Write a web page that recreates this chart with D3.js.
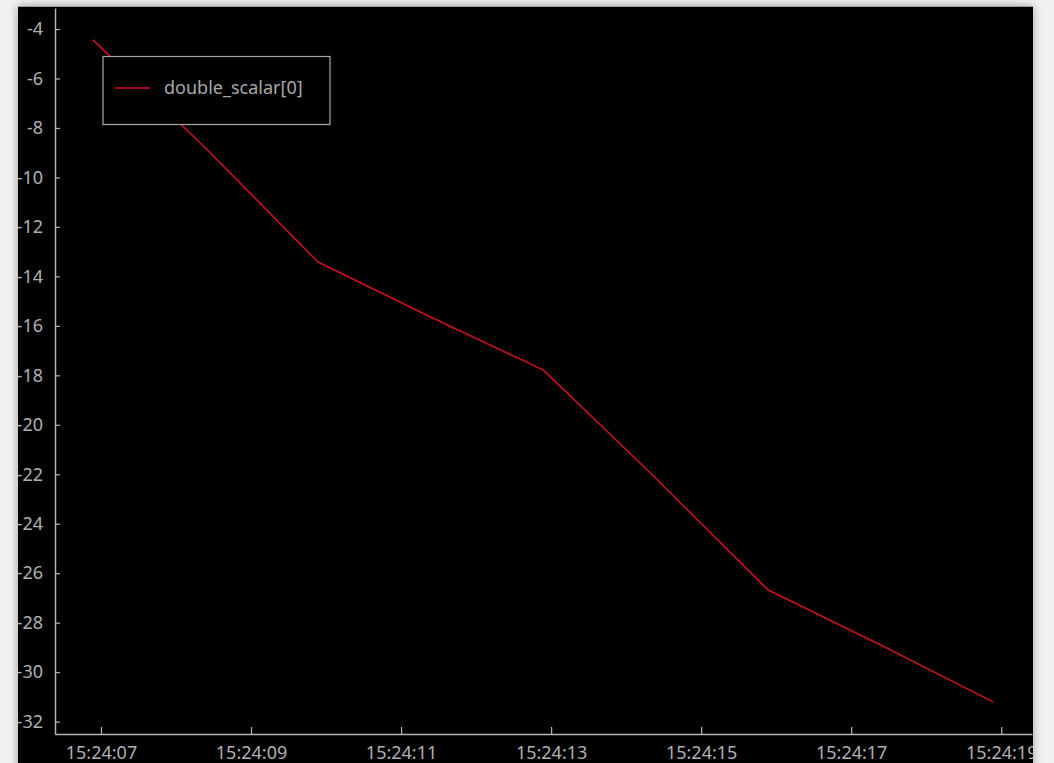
<!DOCTYPE html>
<html>
<head>
<meta charset="utf-8">
<script src="https://cdn.jsdelivr.net/npm/d3@7"></script>
<style>
  html, body { margin: 0; padding: 0; background: #f1f1f1; }
  svg { display: block; }
  text { font-family: "Noto Sans", "Open Sans", sans-serif; }
</style>
</head>
<body>
<svg id="chart" width="1054" height="763"></svg>
<script>
// ---- data ----
const seriesName = "double_scalar[0]";
const timeStrings = ["15:24:06.893","15:24:08.393","15:24:09.893","15:24:11.393","15:24:12.893",
                     "15:24:14.393","15:24:15.893","15:24:17.393","15:24:18.893"];
const values = [-4.44, -8.81, -13.42, -15.64, -17.78, -22.15, -26.68, -28.90, -31.20];
const xTickLabels = ["15:24:07","15:24:09","15:24:11","15:24:13","15:24:15","15:24:17","15:24:19"];
const yTickValues = [-4,-6,-8,-10,-12,-14,-16,-18,-20,-22,-24,-26,-28,-30,-32];
const xDomainStrings = ["15:24:06.387","15:24:19.410"];
const yDomain = [-32.5, -3.15];

(function () {
function parseT(s) {
  const [h, m, rest] = s.split(":");
  const sec = parseFloat(rest);
  return new Date(2020, 0, 1, +h, +m, Math.floor(sec), Math.round((sec - Math.floor(sec)) * 1000));
}
const data = timeStrings.map((t, i) => ({ t: parseT(t), v: values[i] }));

const svg = d3.select("#chart");
const W = 1054, H = 763;

const defs = svg.append("defs");
const f = defs.append("filter").attr("id", "shadow").attr("x", "-5%").attr("y", "-5%").attr("width", "110%").attr("height", "110%");
f.append("feDropShadow").attr("dx", 0).attr("dy", 0).attr("stdDeviation", 5).attr("flood-color", "#000").attr("flood-opacity", 0.35);
defs.append("clipPath").attr("id", "panelClip").append("rect")
  .attr("x", 18).attr("y", 6).attr("width", 1015).attr("height", 757);

svg.append("rect").attr("width", W).attr("height", H).attr("fill", "#f1f1f1");
svg.append("rect").attr("x", 18).attr("y", 6).attr("width", 1015).attr("height", 770)
  .attr("fill", "#000").attr("filter", "url(#shadow)");
svg.append("line").attr("x1", 18).attr("x2", 1033).attr("y1", 6.5).attr("y2", 6.5)
  .attr("stroke", "#9a9a9a").attr("stroke-width", 1);

const g = svg.append("g").attr("clip-path", "url(#panelClip)");

const pLeft = 55, pRight = 1032, pTop = 8, pBottom = 734;
const x = d3.scaleTime().domain(xDomainStrings.map(parseT)).range([pLeft, pRight]);
const y = d3.scaleLinear().domain(yDomain).range([pBottom, pTop]);

const axisColor = "#b4b4b4";
const textColor = "#b0b0b0";

const yAxis = d3.axisLeft(y).tickValues(yTickValues).tickFormat(d => String(d)).tickSizeInner(-5).tickSizeOuter(0).tickPadding(12);
const gy = g.append("g").attr("transform", `translate(${pLeft},0)`).call(yAxis);
gy.select(".domain").attr("stroke", axisColor).attr("stroke-width", 1.5);
gy.selectAll(".tick line").attr("stroke", axisColor).attr("stroke-width", 1.2);
gy.selectAll(".tick text").attr("fill", textColor).attr("font-size", 18)
  .attr("font-family", '"Noto Sans", sans-serif');

const xTickDates = xTickLabels.map(parseT);
const xAxis = d3.axisBottom(x).tickValues(xTickDates).tickFormat((d, i) => xTickLabels[i]).tickSizeInner(-7).tickSizeOuter(0).tickPadding(12);
const gx = g.append("g").attr("transform", `translate(0,${pBottom})`).call(xAxis);
gx.select(".domain").attr("stroke", axisColor).attr("stroke-width", 1.5);
gx.selectAll(".tick line").attr("stroke", axisColor).attr("stroke-width", 1.2);
gx.selectAll(".tick text").attr("fill", textColor).attr("font-size", 18)
  .attr("font-family", '"Noto Sans", sans-serif');

const line = d3.line().x(d => x(d.t)).y(d => y(d.v));
g.append("path").datum(data).attr("d", line)
  .attr("fill", "none").attr("stroke", "#cc1020").attr("stroke-width", 1.5)
  .attr("stroke-linejoin", "round");

const lg = g.append("g");
lg.append("rect").attr("x", 103).attr("y", 56.5).attr("width", 227).attr("height", 68)
  .attr("fill", "#000").attr("stroke", "#a8a8a8").attr("stroke-width", 1.2);
lg.append("line").attr("x1", 115).attr("x2", 150).attr("y1", 88).attr("y2", 88)
  .attr("stroke", "#cc1020").attr("stroke-width", 1.5);
lg.append("text").attr("x", 164).attr("y", 94).attr("fill", "#a8a8a8").attr("font-size", 18)
  .text(seriesName);
})();
</script>
</body>
</html>
